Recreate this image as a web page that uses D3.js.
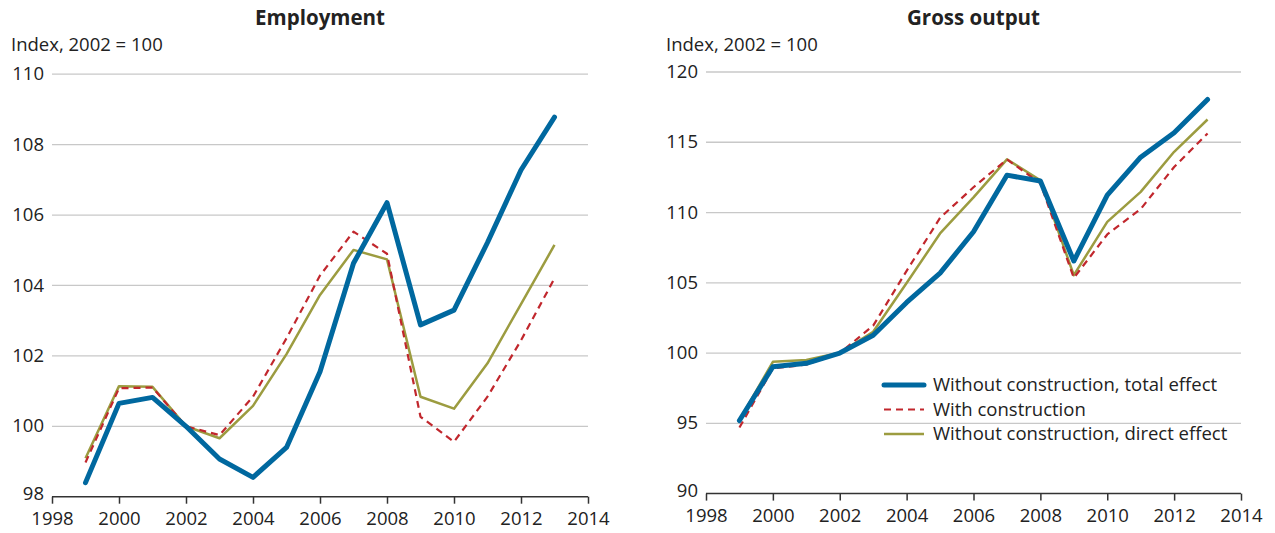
<!DOCTYPE html>
<html>
<head>
<meta charset="utf-8">
<script src="https://cdn.jsdelivr.net/npm/d3@7"></script>
<style>
  body { margin: 0; background: #fff; }
  svg text { font-family: "Open Sans", "Noto Sans", sans-serif; fill: #222; }
</style>
</head>
<body>
<div id="chart"></div>
<script>
const years = d3.range(1999, 2014);
const xTicks = [1998, 2000, 2002, 2004, 2006, 2008, 2010, 2012, 2014];

// Employment, index 2002 = 100
const empTotal  = [98.40, 100.65, 100.82, 100, 99.07, 98.55, 99.40, 101.55, 104.63, 106.35, 102.88, 103.30, 105.22, 107.28, 108.78];
const empWith   = [98.97, 101.08, 101.10, 100, 99.75, 100.84, 102.50, 104.28, 105.53, 104.90, 100.27, 99.56, 100.84, 102.44, 104.20];
const empDirect = [99.09, 101.14, 101.12, 100, 99.66, 100.58, 102.05, 103.73, 105.01, 104.74, 100.84, 100.50, 101.79, 103.47, 105.15];
const empTicks  = [98, 100, 102, 104, 106, 108, 110];

// Gross output, index 2002 = 100
const outTotal  = [95.20, 99.03, 99.27, 100, 101.27, 103.60, 105.69, 108.63, 112.66, 112.24, 106.55, 111.24, 113.94, 115.67, 118.05];
const outWith   = [94.70, 98.91, 99.18, 100, 101.95, 105.85, 109.62, 111.80, 113.78, 112.08, 105.35, 108.44, 110.25, 113.24, 115.63];
const outDirect = [95.23, 99.38, 99.50, 100.02, 101.52, 104.98, 108.51, 111.08, 113.78, 112.30, 105.54, 109.34, 111.47, 114.32, 116.62];
const outTicks  = [90, 95, 100, 105, 110, 115, 120];

const seriesNames = ["Without construction, total effect", "With construction", "Without construction, direct effect"];
const styles = [
  {color: "#00689f", width: 5, dash: null},
  {color: "#c1272d", width: 2.2, dash: "7,5"},
  {color: "#9c9c40", width: 2.5, dash: null}
];
const fontSize = "18.5px";

const svg = d3.select("#chart").append("svg")
  .attr("width", 1275)
  .attr("height", 533);

function panel(opts) {
  const x = d3.scaleLinear().domain([1998, 2014]).range([opts.left, opts.right]);
  const y = d3.scaleLinear().domain(opts.yDomain).range([opts.bottom, opts.top]);
  const g = svg.append("g");

  g.append("text")
    .attr("x", (opts.left + opts.right) / 2)
    .attr("y", 25)
    .attr("text-anchor", "middle")
    .style("font-weight", "bold")
    .style("font-size", "20.5px")
    .text(opts.title);

  g.append("text")
    .attr("x", opts.labelX)
    .attr("y", 51)
    .style("font-size", fontSize)
    .text("Index, 2002 = 100");

  // gridlines
  g.selectAll(".grid").data(opts.yTicks.slice(1)).join("line")
    .attr("x1", opts.left).attr("x2", opts.right)
    .attr("y1", d => y(d)).attr("y2", d => y(d))
    .attr("stroke", "#c8c8c8").attr("stroke-width", 1.3);

  // y labels
  g.selectAll(".ylab").data(opts.yTicks).join("text")
    .attr("x", opts.left - 8)
    .attr("y", d => y(d))
    .attr("dy", d => d === opts.yDomain[0] ? "0.2em" : "0.33em")
    .attr("text-anchor", "end")
    .style("font-size", fontSize)
    .text(d => d);

  // x axis
  const xAxis = d3.axisBottom(x).tickValues(xTicks).tickFormat(d3.format("d")).tickSize(7).tickPadding(8);
  const ax = g.append("g").attr("transform", `translate(0,${opts.bottom})`).call(xAxis);
  ax.select(".domain").attr("stroke", "#333").attr("stroke-width", 1.5).attr("d", `M${opts.left},0H${opts.right}`);
  ax.selectAll(".tick line").attr("stroke", "#333").attr("stroke-width", 1.5);
  ax.selectAll(".tick text").style("font-size", fontSize).style("font-family", '"Open Sans", "Noto Sans", sans-serif').attr("fill", "#222");

  const line = d3.line().x((d, i) => x(years[i])).y(d => y(d));
  // olive first, then red, blue on top
  [2, 1, 0].forEach(k => {
    g.append("path")
      .datum(opts.series[k])
      .attr("d", line)
      .attr("fill", "none")
      .attr("stroke", styles[k].color)
      .attr("stroke-width", styles[k].width)
      .attr("stroke-dasharray", styles[k].dash)
      .attr("stroke-linejoin", "round")
      .attr("stroke-linecap", k === 0 ? "round" : "butt");
  });
}

panel({
  title: "Employment", left: 52, right: 588, top: 74.2, bottom: 496.7,
  yDomain: [98, 110], yTicks: empTicks, labelX: 11,
  series: [empTotal, empWith, empDirect]
});

panel({
  title: "Gross output", left: 706, right: 1241, top: 72, bottom: 493.6,
  yDomain: [90, 120], yTicks: outTicks, labelX: 666,
  series: [outTotal, outWith, outDirect]
});

// legend
const legend = svg.append("g").attr("transform", "translate(884,385)");
seriesNames.forEach((name, i) => {
  const row = legend.append("g").attr("transform", `translate(0,${i * 24.5})`);
  row.append("line")
    .attr("x1", 0).attr("x2", 40).attr("y1", 0).attr("y2", 0)
    .attr("stroke", styles[i].color)
    .attr("stroke-width", styles[i].width)
    .attr("stroke-dasharray", styles[i].dash)
    .attr("stroke-linecap", i === 0 ? "round" : "butt");
  row.append("text")
    .attr("x", 49).attr("y", 0).attr("dy", "0.35em")
    .style("font-size", fontSize)
    .text(name);
});
</script>
</body>
</html>
